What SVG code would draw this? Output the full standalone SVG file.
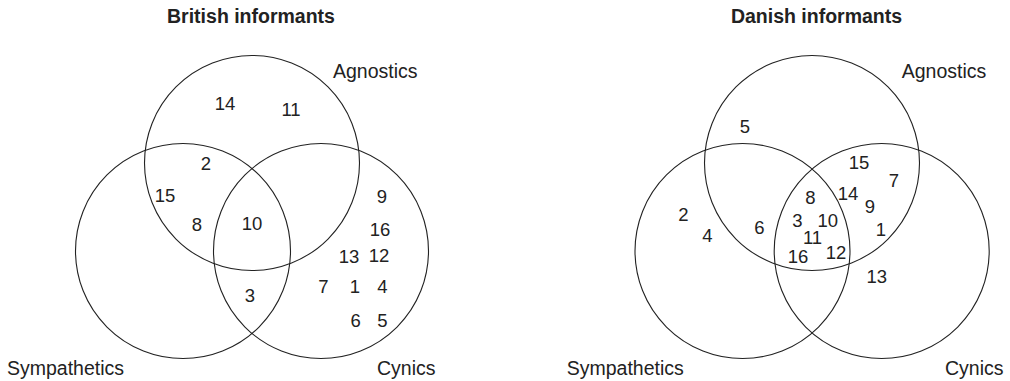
<svg xmlns="http://www.w3.org/2000/svg" width="1010" height="381" viewBox="0 0 1010 381">
<style>
  .bg { fill: #ffffff; }
  .set { fill: none; stroke: #222222; stroke-width: 1.1; }
  .title { font-family: "Liberation Sans", Arial, sans-serif; font-size: 19.5px; font-weight: bold; fill: #222222; text-anchor: middle; }
  .lbl { font-family: "Liberation Sans", Arial, sans-serif; font-size: 19.5px; fill: #222222; }
  .num { font-family: "Liberation Sans", Arial, sans-serif; font-size: 18.5px; fill: #222222; text-anchor: middle; }
</style>
<rect class="bg" x="0" y="0" width="1010" height="381"/>

<!-- British informants -->
<g id="british">
  <text class="title" x="251" y="23">British informants</text>
  <g id="brit-agnostics">
    <circle class="set" cx="252" cy="163" r="107.5"/>
    <text class="lbl" x="333" y="78">Agnostics</text>
  </g>
  <g id="brit-sympathetics">
    <circle class="set" cx="183" cy="251" r="107.5"/>
    <text class="lbl" x="7" y="375">Sympathetics</text>
  </g>
  <g id="brit-cynics">
    <circle class="set" cx="321" cy="251" r="107.5"/>
    <text class="lbl" x="377" y="375">Cynics</text>
  </g>
  <g id="brit-members">
    <text class="num" x="225" y="109.5">14</text>
    <text class="num" x="291" y="116">11</text>
    <text class="num" x="206" y="170">2</text>
    <text class="num" x="165" y="201.5">15</text>
    <text class="num" x="197" y="230.5">8</text>
    <text class="num" x="252" y="230">10</text>
    <text class="num" x="250" y="301.5">3</text>
    <text class="num" x="382" y="203.3">9</text>
    <text class="num" x="380" y="236">16</text>
    <text class="num" x="349" y="263.3">13</text>
    <text class="num" x="379" y="261.7">12</text>
    <text class="num" x="323.3" y="293.3">7</text>
    <text class="num" x="355" y="293.3">1</text>
    <text class="num" x="382.3" y="293.3">4</text>
    <text class="num" x="355.7" y="326.7">6</text>
    <text class="num" x="382.3" y="326.7">5</text>
  </g>
</g>

<!-- Danish informants -->
<g id="danish">
  <text class="title" x="816.5" y="23">Danish informants</text>
  <g id="dan-agnostics">
    <circle class="set" cx="812" cy="163" r="107.5"/>
    <text class="lbl" x="901.7" y="78">Agnostics</text>
  </g>
  <g id="dan-sympathetics">
    <circle class="set" cx="742.5" cy="251" r="107.5"/>
    <text class="lbl" x="566.7" y="375">Sympathetics</text>
  </g>
  <g id="dan-cynics">
    <circle class="set" cx="881.7" cy="251" r="107.5"/>
    <text class="lbl" x="945" y="375">Cynics</text>
  </g>
  <g id="dan-members">
    <text class="num" x="745" y="133.3">5</text>
    <text class="num" x="859" y="168.5">15</text>
    <text class="num" x="894" y="186.7">7</text>
    <text class="num" x="810.5" y="204">8</text>
    <text class="num" x="848" y="199.5">14</text>
    <text class="num" x="870" y="212.7">9</text>
    <text class="num" x="683.3" y="221">2</text>
    <text class="num" x="707.3" y="241.7">4</text>
    <text class="num" x="759.3" y="234">6</text>
    <text class="num" x="797.3" y="226.7">3</text>
    <text class="num" x="827.7" y="226.7">10</text>
    <text class="num" x="881" y="236">1</text>
    <text class="num" x="812.5" y="244">11</text>
    <text class="num" x="798" y="262.7">16</text>
    <text class="num" x="836" y="258.5">12</text>
    <text class="num" x="876.7" y="282.7">13</text>
  </g>
</g>

<g id="connectors"></g>
</svg>
